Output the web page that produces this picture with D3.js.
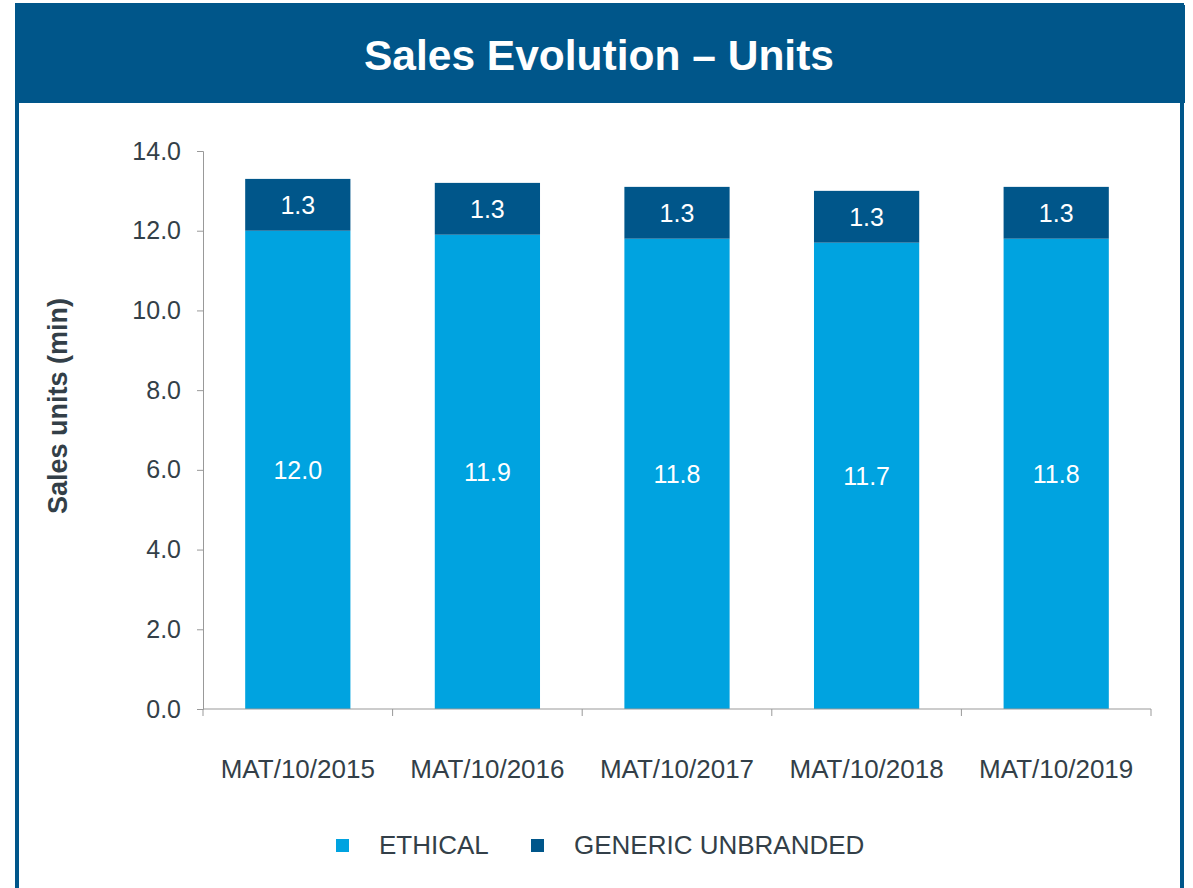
<!DOCTYPE html>
<html>
<head>
<meta charset="utf-8">
<script src="https://cdn.jsdelivr.net/npm/d3@7"></script>
<style>
  html, body { margin: 0; padding: 0; background: #fff; }
  svg { display: block; font-family: "Liberation Sans", Arial, sans-serif; }
</style>
</head>
<body>
<script>
// chart data
var categories = ['MAT/10/2015', 'MAT/10/2016', 'MAT/10/2017', 'MAT/10/2018', 'MAT/10/2019'];
var ethical = [12.0, 11.9, 11.8, 11.7, 11.8];
var generic = [1.3, 1.3, 1.3, 1.3, 1.3];
var seriesNames = ['ETHICAL', 'GENERIC UNBRANDED'];
var yTicks = [0, 2, 4, 6, 8, 10, 12, 14];

var W = 1193, H = 888;
var DARK = '#00568a', LIGHT = '#00a3e0', TEXT = '#333f48';

var svg = d3.select('body').append('svg')
  .attr('width', W)
  .attr('height', H);

// frame + title bar
svg.append('rect')
  .attr('x', 17).attr('y', 5)
  .attr('width', 1165).attr('height', H)
  .attr('fill', 'none')
  .attr('stroke', DARK)
  .attr('stroke-width', 4);
svg.append('rect')
  .attr('x', 15).attr('y', 5)
  .attr('width', 1170).attr('height', 98)
  .attr('fill', DARK);
svg.append('text')
  .attr('x', 599).attr('y', 70)
  .attr('text-anchor', 'middle')
  .attr('fill', '#fff')
  .style('font-size', '42.5px')
  .style('font-weight', 'bold')
  .text('Sales Evolution \u2013 Units');

// scales
var x = d3.scaleBand()
  .domain(categories)
  .range([203, 1151])
  .paddingInner(0.445)
  .paddingOuter(0.2225);
var y = d3.scaleLinear()
  .domain([0, 14])
  .range([709, 151]);

// stack the two series
var rows = categories.map(function(c, i) {
  return { cat: c, ethical: ethical[i], generic: generic[i] };
});
var stacked = d3.stack().keys(['ethical', 'generic'])(rows);
var colors = [LIGHT, DARK];

var groups = svg.selectAll('g.series')
  .data(stacked)
  .enter()
  .append('g')
  .attr('class', 'series')
  .attr('fill', function(d, i) { return colors[i]; });

groups.selectAll('rect')
  .data(function(d) { return d; })
  .enter()
  .append('rect')
  .attr('x', function(d) { return x(d.data.cat); })
  .attr('y', function(d) { return y(d[1]); })
  .attr('width', x.bandwidth())
  .attr('height', function(d) { return y(d[0]) - y(d[1]); });

// value labels in the middle of each segment
groups.selectAll('text')
  .data(function(d) { return d; })
  .enter()
  .append('text')
  .attr('x', function(d) { return x(d.data.cat) + x.bandwidth() / 2; })
  .attr('y', function(d) { return (y(d[0]) + y(d[1])) / 2; })
  .attr('dy', '0.36em')
  .attr('text-anchor', 'middle')
  .attr('fill', '#fff')
  .style('font-size', '25px')
  .text(function(d) { return d3.format('.1f')(d[1] - d[0]); });

// y axis
var yAxis = svg.append('g')
  .attr('transform', 'translate(203,0)')
  .call(d3.axisLeft(y).tickValues(yTicks).tickFormat(d3.format('.1f')).tickSize(6).tickPadding(16));
yAxis.select('.domain').attr('stroke', '#999');
yAxis.selectAll('.tick line').attr('stroke', '#999');
yAxis.selectAll('.tick text')
  .attr('fill', TEXT)
  .style('font-size', '25px')
  .style('font-family', '"Liberation Sans", Arial, sans-serif');

// x axis - ticks between categories
var xAxis = svg.append('g')
  .attr('transform', 'translate(0,709)');
xAxis.append('line')
  .attr('x1', 203).attr('x2', 1151)
  .attr('stroke', '#999');
var bounds = categories.map(function(c) { return x(c) - x.step() * x.paddingInner() / 2; });
bounds.push(x.range()[1]);
xAxis.selectAll('line.tick')
  .data(bounds)
  .enter()
  .append('line')
  .attr('class', 'tick')
  .attr('x1', function(d) { return d; })
  .attr('x2', function(d) { return d; })
  .attr('y1', 0).attr('y2', 7)
  .attr('stroke', '#999');
xAxis.selectAll('text')
  .data(categories)
  .enter()
  .append('text')
  .attr('x', function(d) { return x(d) + x.bandwidth() / 2; })
  .attr('y', 69)
  .attr('text-anchor', 'middle')
  .attr('fill', TEXT)
  .style('font-size', '26px')
  .text(function(d) { return d; });

// y axis title
svg.append('text')
  .attr('transform', 'translate(67,406) rotate(-90)')
  .attr('text-anchor', 'middle')
  .attr('fill', TEXT)
  .style('font-size', '27px')
  .style('font-weight', 'bold')
  .text('Sales units (min)');

// legend
var legendX = [336, 531];
var legend = svg.selectAll('g.legend')
  .data(seriesNames)
  .enter()
  .append('g')
  .attr('class', 'legend')
  .attr('transform', function(d, i) { return 'translate(' + legendX[i] + ',839)'; });
legend.append('rect')
  .attr('width', 13).attr('height', 13)
  .attr('fill', function(d, i) { return colors[i]; });
legend.append('text')
  .attr('x', 43).attr('y', 15)
  .attr('fill', TEXT)
  .style('font-size', '26px')
  .text(function(d) { return d; });
</script>
</body>
</html>
